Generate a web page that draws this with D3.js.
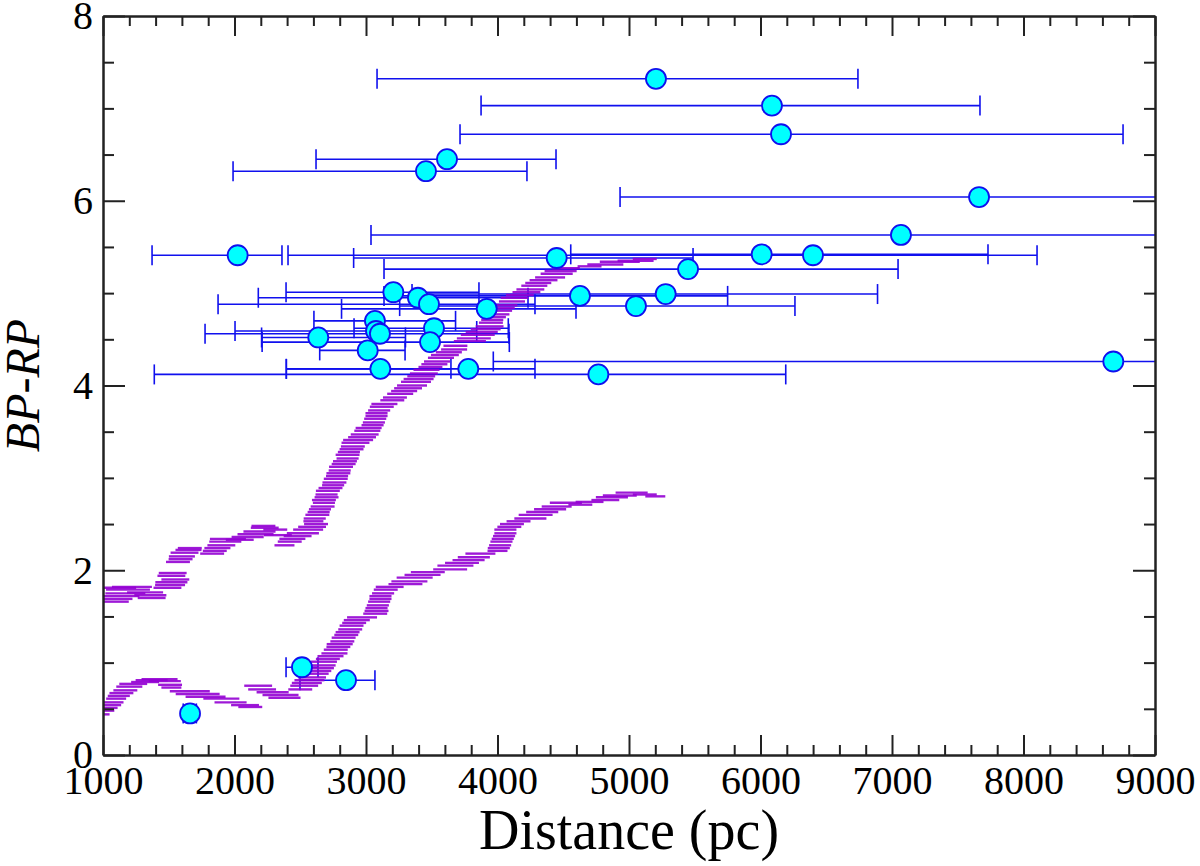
<!DOCTYPE html>
<html>
<head>
<meta charset="utf-8">
<script src="https://cdn.jsdelivr.net/npm/d3@7"></script>
<style>
  body { margin: 0; background: #fff; }
  svg { display: block; }
  .axis text { font-family: "Liberation Serif", "Times New Roman", serif; font-size: 40px; fill: #000; }
  .axis line, .axis path { stroke: #222; stroke-width: 2; }
</style>
</head>
<body>
<script>
// stars: distance (pc), BP-RP colour, lower / upper distance bound
let starDist  = [5205, 6087, 6156, 3616, 3456, 7662, 7068, 2024, 4450, 6009, 6399, 5449,
                 3208, 3395, 3479, 3918, 4627, 5053, 5279, 3068, 3076, 3106, 3517, 2637,
                 3487, 3013, 3109, 3778, 4767, 8683, 1662, 2513, 2848];
let starColor = [7.32, 7.03, 6.72, 6.45, 6.32, 6.04, 5.63, 5.41, 5.38, 5.42, 5.41, 5.26,
                 5.01, 4.95, 4.88, 4.83, 4.97, 4.86, 4.99, 4.70, 4.59, 4.56, 4.62, 4.52,
                 4.47, 4.38, 4.18, 4.18, 4.12, 4.26, 0.45, 0.95, 0.81];
let starLow   = [3084, 3875, 3715, 2620, 1989, 4932, 3038, 1373, 2906, 4557, 2407, 3137,
                 2392, 2181, 1875, 2814, 3137, 3256, 3350, 2604, 2004, 1776, 2909, 2206,
                 2210, 2648, 2394, 2394, 1390, 3968, 1610, 2392, 2498];
let starHigh  = [6741, 7669, 8757, 4445, 4224, 9600, 9600, 2361, 5487, 7730, 8103, 7046,
                 3859, 4232, 4285, 4597, 5750, 6262, 6890, 3681, 3842, 4087, 4082, 3300,
                 4090, 3297, 3646, 4285, 6192, 9600, 1710, 2635, 3068];

// upper extinction track: distance, distance half-range, BP-RP
let trackADist = [1090, 1110, 1140, 1170, 1190, 1130, 1220, 1320, 1360, 1370, 1490, 1510,
                  1520, 1550, 1520, 1530, 1570, 1590, 1600, 1620, 1650, 1660, 1830, 1850,
                  1870, 1900, 1930, 1950, 2040, 2100, 2160, 2190, 2230, 2220, 2310, 2330,
                  2380, 2420,
                  2440, 2480, 2520, 2560, 2590, 2620, 2600, 2610, 2630, 2640, 2650, 2670,
                  2680, 2680, 2700, 2700, 2710, 2730, 2750, 2760, 2770, 2780, 2790, 2800,
                  2810, 2830, 2840, 2860, 2860, 2870, 2890, 2900, 2920, 2940, 2970, 2990,
                  3010, 3020, 3050, 3060, 3070, 3080, 3080, 3100, 3120, 3140, 3200, 3220,
                  3260, 3290, 3320, 3350, 3380, 3400, 3420, 3440, 3460, 3490, 3520, 3540,
                  3570, 3600, 3630, 3670, 3680, 3790, 3820, 3850, 3880, 3910, 3940, 3950,
                  3960, 3980, 4000, 4020, 4040, 4060, 4110, 4130, 4170, 4220, 4250, 4280,
                  4310, 4350, 4400, 4450, 4480, 4520, 4700, 4820, 4930, 5050, 5120];
let trackAErr  = [106, 114, 137, 152, 167, 122, 152, 137, 122, 106, 106, 114,
                  122, 106, 106, 106, 91, 91, 99, 106, 99, 91, 91, 91,
                  99, 106, 122, 137, 106, 122, 137, 122, 106, 91, 91, 106,
                  76, 91,
                  99, 106, 122, 114, 106, 91, 76, 84, 91, 84, 84, 91,
                  84, 91, 91, 84, 91, 91, 84, 91, 91, 84, 91, 84,
                  91, 91, 91, 84, 91, 84, 91, 91, 106, 114, 106, 106,
                  99, 99, 84, 84, 84, 84, 84, 84, 91, 99, 91, 91,
                  99, 99, 106, 114, 114, 114, 106, 106, 99, 91, 99, 99,
                  99, 106, 99, 99, 91, 122, 129, 129, 122, 114, 106, 91,
                  84, 84, 91, 91, 91, 91, 99, 106, 106, 106, 106, 99,
                  99, 106, 114, 122, 122, 106, 91, 137, 152, 137, 91];
let trackAColor = [1.66, 1.69, 1.72, 1.75, 1.79, 1.81, 1.82, 1.76, 1.73, 1.70, 1.81, 1.84,
                   1.87, 1.90, 1.94, 1.97, 2.09, 2.12, 2.15, 2.19, 2.22, 2.24, 2.18, 2.21,
                   2.24, 2.27, 2.31, 2.34, 2.33, 2.36, 2.39, 2.42, 2.46, 2.48, 2.44, 2.38,
                   2.27, 2.31,
                   2.34, 2.37, 2.40, 2.44, 2.47, 2.50, 2.53, 2.56, 2.60, 2.63, 2.66, 2.69,
                   2.73, 2.76, 2.79, 2.82, 2.86, 2.89, 2.92, 2.95, 2.99, 3.02, 3.05, 3.08,
                   3.12, 3.15, 3.18, 3.21, 3.25, 3.28, 3.31, 3.34, 3.38, 3.41, 3.44, 3.47,
                   3.51, 3.54, 3.57, 3.60, 3.64, 3.67, 3.70, 3.73, 3.77, 3.80, 3.84, 3.87,
                   3.91, 3.94, 3.97, 4.00, 4.04, 4.07, 4.10, 4.13, 4.17, 4.20, 4.23, 4.26,
                   4.30, 4.33, 4.36, 4.39, 4.43, 4.48, 4.51, 4.55, 4.58, 4.61, 4.64, 4.68,
                   4.71, 4.74, 4.77, 4.81, 4.84, 4.87, 4.91, 4.95, 4.98, 5.01, 5.04, 5.08,
                   5.11, 5.14, 5.17, 5.21, 5.24, 5.27, 5.29, 5.31, 5.34, 5.35, 5.37];

// lower extinction track
let trackBDist = [1020, 1040, 1050, 1070, 1080, 1100, 1120, 1140, 1170, 1200, 1230, 1320,
                  1370, 1430, 1470, 1510, 1520, 1660, 1720, 1780, 1900, 1970, 2080, 2120,
                  2180, 2210, 2290, 2350, 2380, 2500, 2530, 2550, 2570, 2590, 2610, 2630,
                  2650, 2670, 2680, 2710, 2730, 2760, 2770, 2790, 2800, 2820, 2830, 2850,
                  2860, 2880, 2890, 2910, 2930, 2970, 3070, 3080, 3080, 3090, 3100, 3110,
                  3110, 3130, 3150, 3180, 3300, 3330, 3370, 3430, 3470, 3640, 3680, 3730,
                  3780, 3820, 3870, 4000, 4010, 4020, 4030, 4040, 4050, 4060, 4060, 4090,
                  4110, 4160, 4250, 4290, 4340, 4400, 4450, 4520, 4630, 4700, 4820, 4870,
                  4930, 5020, 5120, 5200];
let trackBErr  = [30, 46, 61, 68, 76, 76, 84, 91, 91, 99, 106, 106,
                  122, 137, 122, 91, 76, 152, 167, 152, 137, 122, 106, 91,
                  106, 106, 122, 137, 122, 91, 106, 114, 114, 106, 106, 106,
                  106, 99, 99, 91, 99, 99, 91, 91, 99, 91, 91, 91,
                  91, 91, 91, 91, 99, 114, 91, 91, 84, 84, 84, 84,
                  84, 84, 91, 106, 129, 137, 137, 137, 129, 129, 137, 129,
                  122, 122, 114, 76, 84, 84, 84, 84, 84, 84, 84, 91,
                  91, 91, 122, 129, 122, 122, 114, 122, 91, 106, 106, 122,
                  129, 122, 91, 76];
let trackBColor = [0.44, 0.48, 0.51, 0.54, 0.57, 0.61, 0.64, 0.67, 0.70, 0.74, 0.77, 0.79,
                   0.81, 0.82, 0.80, 0.76, 0.73, 0.69, 0.66, 0.63, 0.61, 0.57, 0.54, 0.52,
                   0.75, 0.71, 0.68, 0.65, 0.62, 0.71, 0.75, 0.78, 0.81, 0.84, 0.88, 0.91,
                   0.94, 0.97, 1.01, 1.04, 1.07, 1.10, 1.14, 1.17, 1.20, 1.23, 1.27, 1.30,
                   1.33, 1.36, 1.40, 1.43, 1.46, 1.49, 1.53, 1.56, 1.59, 1.62, 1.66, 1.69,
                   1.72, 1.75, 1.79, 1.82, 1.85, 1.88, 1.92, 1.95, 1.98, 2.01, 2.05, 2.08,
                   2.11, 2.14, 2.18, 2.21, 2.24, 2.27, 2.31, 2.34, 2.37, 2.40, 2.44, 2.47,
                   2.50, 2.53, 2.56, 2.60, 2.63, 2.66, 2.69, 2.73, 2.71, 2.74, 2.76, 2.79,
                   2.81, 2.84, 2.82, 2.80];

let xMajor = [1000, 2000, 3000, 4000, 5000, 6000, 7000, 8000, 9000];
let yMajor = [0, 2, 4, 6, 8];

// canvas and margins
let width = 1200, height = 866;
let margin = {left: 103, right: 45, top: 16, bottom: 111};
let w = width - margin.left - margin.right;
let h = height - margin.top - margin.bottom;

let x = d3.scaleLinear().domain([1000, 9000]).range([0, w]);
let y = d3.scaleLinear().domain([0, 8]).range([h, 0]);

let xMinor = d3.range(1000, 9001, 200).filter(d => d % 1000 !== 0);
let yMinor = d3.range(0, 8.01, 0.5).filter(d => d % 2 !== 0);

let svg = d3.select("body").append("svg").attr("width", width).attr("height", height);
let chartGroup = svg.append("g").attr("transform", "translate(" + margin.left + "," + margin.top + ")");

chartGroup.append("clipPath").attr("id", "plotClip")
  .append("rect").attr("width", w).attr("height", h);

let plot = chartGroup.append("g").attr("clip-path", "url(#plotClip)");

// star error bars
let stars = starDist.map((d, i) => ({d: d, c: starColor[i], lo: starLow[i], hi: starHigh[i]}));
let bars = plot.append("g").attr("stroke", "#1010ee").attr("stroke-width", 1.6).attr("fill", "none");
stars.forEach(s => {
  bars.append("line").attr("x1", x(s.lo)).attr("x2", x(s.hi)).attr("y1", y(s.c)).attr("y2", y(s.c));
  bars.append("line").attr("x1", x(s.lo)).attr("x2", x(s.lo)).attr("y1", y(s.c) - 10).attr("y2", y(s.c) + 10);
  bars.append("line").attr("x1", x(s.hi)).attr("x2", x(s.hi)).attr("y1", y(s.c) - 10).attr("y2", y(s.c) + 10);
});

// extinction tracks drawn as horizontal distance ranges
function drawTrack(dist, err, col) {
  plot.append("g").selectAll("line").data(dist).enter().append("line")
    .attr("x1", (d, i) => x(d - err[i]))
    .attr("x2", (d, i) => x(d + err[i]))
    .attr("y1", (d, i) => y(col[i]))
    .attr("y2", (d, i) => y(col[i]))
    .attr("stroke", "#9400d3")
    .attr("stroke-width", 2.4)
    .attr("stroke-opacity", 0.9);
}
drawTrack(trackADist, trackAErr, trackAColor);
drawTrack(trackBDist, trackBErr, trackBColor);

// star markers
plot.append("g").selectAll("circle").data(stars).enter().append("circle")
  .attr("cx", s => x(s.d)).attr("cy", s => y(s.c)).attr("r", 10)
  .attr("fill", "#00ffff").attr("stroke", "#1010ee").attr("stroke-width", 1.8);

// axes, ticks pointing inwards
chartGroup.append("g").attr("class", "axis").attr("transform", "translate(0," + h + ")")
  .call(d3.axisBottom(x).tickValues(xMajor).tickSize(-20).tickSizeOuter(0).tickPadding(11).tickFormat(d3.format("d")));
chartGroup.append("g").attr("class", "axis").attr("transform", "translate(0," + h + ")")
  .call(d3.axisBottom(x).tickValues(xMinor).tickSize(-10).tickSizeOuter(0).tickFormat(""));
chartGroup.append("g").attr("class", "axis")
  .call(d3.axisTop(x).tickValues(xMajor).tickSize(-20).tickSizeOuter(0).tickFormat(""));
chartGroup.append("g").attr("class", "axis")
  .call(d3.axisTop(x).tickValues(xMinor).tickSize(-10).tickSizeOuter(0).tickFormat(""));

chartGroup.append("g").attr("class", "axis")
  .call(d3.axisLeft(y).tickValues(yMajor).tickSize(-22).tickSizeOuter(0).tickPadding(10).tickFormat(d3.format("d")));
chartGroup.append("g").attr("class", "axis")
  .call(d3.axisLeft(y).tickValues(yMinor).tickSize(-11).tickSizeOuter(0).tickFormat(""));
chartGroup.append("g").attr("class", "axis").attr("transform", "translate(" + w + ",0)")
  .call(d3.axisRight(y).tickValues(yMajor).tickSize(-22).tickSizeOuter(0).tickFormat(""));
chartGroup.append("g").attr("class", "axis").attr("transform", "translate(" + w + ",0)")
  .call(d3.axisRight(y).tickValues(yMinor).tickSize(-11).tickSizeOuter(0).tickFormat(""));

// axis titles
svg.append("text")
  .attr("x", margin.left + w / 2).attr("y", 849)
  .attr("text-anchor", "middle")
  .style("font-family", "'Liberation Serif', 'Times New Roman', serif")
  .style("font-size", "56px")
  .text("Distance (pc)");

svg.append("text")
  .attr("transform", "translate(39," + (margin.top + y(4.0)) + ") rotate(-90)")
  .attr("text-anchor", "middle")
  .style("font-family", "'Liberation Serif', 'Times New Roman', serif")
  .style("font-size", "48px")
  .style("font-style", "italic")
  .text("BP-RP");
</script>
</body>
</html>
